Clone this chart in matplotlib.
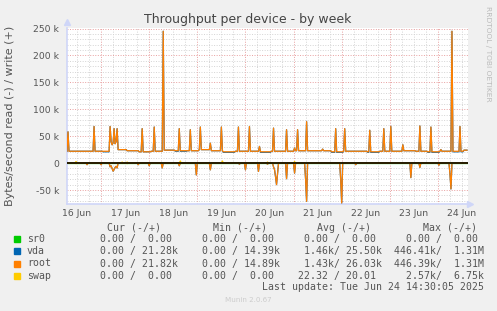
import numpy as np
import matplotlib.pyplot as plt

# samples every 30 min, x in days counted from 16 Jun 00:00
start = 14 / 48
step = 1 / 48
nsamp = 400

day_labels = ['16 Jun', '17 Jun', '18 Jun', '19 Jun', '20 Jun',
              '21 Jun', '22 Jun', '23 Jun', '24 Jun']

# write baseline, one value per 6 h block (k bytes/s)
root_write_base = [22, 22, 22, 22, 25, 23, 21, 22, 24, 23, 23, 25, 23, 21, 22, 22, 21,
                   22, 22, 23, 23, 23, 21, 22, 22, 21, 22, 22, 23, 22, 21, 22, 22, 24]
vda_write_base = [22, 22, 22, 21, 25, 23, 21, 22, 24, 22, 23, 25, 23, 20, 22, 22, 20,
                  22, 22, 23, 23, 23, 20, 22, 22, 20, 22, 22, 23, 22, 20, 22, 21, 24]

# write peaks (days, k bytes/s)
write_t = [0.313, 0.854, 1.188, 1.208, 1.229, 1.250, 1.271, 1.292, 1.313, 1.333,
           1.854, 2.104, 2.292, 2.625, 2.854, 3.063, 3.271, 3.500, 3.854, 4.083,
           4.292, 4.583, 4.854, 5.021, 5.083, 5.271, 5.604, 5.875, 6.063, 6.583,
           6.875, 7.021, 7.271, 7.625, 7.854, 8.063, 8.292, 8.458]
write_v = [58, 68, 68, 40, 34, 38, 64, 36, 40, 64,
           64, 67, 245, 64, 62, 67, 37, 67, 67, 68,
           31, 65, 62, 28, 62, 77, 26, 64, 64, 61,
           64, 68, 34, 69, 67, 25, 245, 68]

# read peaks (days, k bytes/s, drawn negative)
read_t = [0.708, 1.000, 1.188, 1.208, 1.229, 1.250, 1.271, 1.292, 1.313, 1.333,
          1.771, 2.000, 2.271, 2.625, 2.979, 3.271, 3.875, 4.000, 4.271, 4.458,
          4.583, 4.604, 4.625, 4.646, 4.667, 4.854, 5.021, 5.250, 5.271, 5.979,
          6.000, 6.292, 7.438, 7.625, 8.021, 8.250, 8.271]
read_v = [3, 3, 7, 5, 10, 15, 12, 8, 6, 9,
          3, 5, 9, 5, 22, 12.5, 2, 12.5, 15.5, 2,
          7, 12, 25, 40, 20, 29, 18.6, 30, 71, 30,
          74, 3, 27, 8, 4, 20, 48]

swap_t = [0.479, 1.438, 1.542, 2.646, 3.521, 4.458, 5.021]
swap_write_v = [3, 2, 2, 4, 4, 2, 3]
swap_read_v = [1, 0, 1, 1, 0, 1, 1]

names = ['sr0', 'vda', 'root', 'swap']
colors = ['#00cc00', '#0066b3', '#ff8000', '#ffcc00']
cur_txt = ['  0.00 /  0.00 ', '  0.00 / 21.28k', '  0.00 / 21.82k', '  0.00 /  0.00 ']
min_txt = ['  0.00 /  0.00 ', '  0.00 / 14.39k', '  0.00 / 14.89k', '  0.00 /  0.00 ']
avg_txt = ['  0.00 /  0.00 ', '  1.46k/ 25.50k', '  1.43k/ 26.03k', ' 22.32 / 20.01 ']
max_txt = ['  0.00 /  0.00 ', '446.41k/  1.31M', '446.39k/  1.31M', '  2.57k/  6.75k']

ytick_vals = [-50000, 0, 50000, 100000, 150000, 200000, 250000]
ytick_labels = ['-50 k', '0', '50 k', '100 k', '150 k', '200 k', '250 k']


def build(base, pt, pv):
    s = np.repeat(np.asarray(base, dtype=float), 12)[:nsamp]
    for tt, vv in zip(pt, pv):
        s[int(round((tt - start) / step))] = vv
    return s * 1000


t = start + np.arange(nsamp) * step
zeros = np.zeros(nsamp)
vda_w = build(vda_write_base, write_t, write_v)
root_w = build(root_write_base, write_t, write_v)
vda_r = build(zeros[::12], read_t, read_v)
root_r = build(zeros[::12], read_t, read_v)
swap_w = build(zeros[::12], swap_t, swap_write_v)
swap_r = build(zeros[::12], swap_t, swap_read_v)

W, H = 497, 311
fig = plt.figure(figsize=(W / 100, H / 100), dpi=100)
fig.patch.set_facecolor('#f0f0f0')
ax = fig.add_axes([67 / W, 1 - 204 / H, 401 / W, 176 / H])
ax.set_facecolor('white')
ax.set_xlim(start, start + nsamp * step)
ax.set_ylim(-76000, 251000)

# grid like rrdtool: grey minor, red major, both dotted
for x in np.arange(0.25, 9, 0.25):
    major = abs(x - round(x)) < 1e-6
    ax.axvline(x, color='#e8a0a0' if major else '#d4d4d4', lw=0.7,
               ls=(0, (1, 1.6)), zorder=1)
for y in np.arange(-70000, 250001, 10000):
    major = y % 50000 == 0
    ax.axhline(y, color='#e8a0a0' if major else '#d4d4d4', lw=0.7,
               ls=(0, (1, 1.6)), zorder=1)

ax.plot(t, zeros, color=colors[0], lw=0.9, zorder=2)
ax.plot(t, -vda_r, color=colors[1], lw=0.9, zorder=3)
ax.plot(t, vda_w, color=colors[1], lw=0.9, zorder=3)
ax.plot(t, -root_r, color=colors[2], lw=0.9, zorder=4)
ax.plot(t, root_w, color=colors[2], lw=0.9, zorder=4)
ax.plot(t, -swap_r, color=colors[3], lw=0.9, zorder=5)
ax.plot(t, swap_w, color=colors[3], lw=0.9, zorder=5)
ax.axhline(0, color='black', lw=1.2, zorder=6)

for side in ['top', 'right']:
    ax.spines[side].set_visible(False)
for side in ['left', 'bottom']:
    ax.spines[side].set_color('#cfd6f8')
    ax.spines[side].set_linewidth(1.2)
ax.plot([0], [1.035], marker='^', ms=4.5, color='#cfd6f8', transform=ax.transAxes,
        clip_on=False)
ax.plot([1.006], [0], marker='>', ms=4.5, color='#cfd6f8', transform=ax.transAxes,
        clip_on=False)

ax.set_xticks(np.arange(len(day_labels)) + 0.5, day_labels)
ax.set_yticks(ytick_vals, ytick_labels)
ax.tick_params(axis='both', length=0, labelsize=6.7, labelcolor='#555555')
ax.tick_params(axis='y', pad=5.5)
ax.tick_params(axis='x', pad=3.5)

fig.text(248 / W, 1 - 19.5 / H, 'Throughput per device - by week', ha='center',
         va='center', fontsize=9, color='#444444')
fig.text(10.5 / W, 1 - 116 / H, 'Bytes/second read (-) / write (+)', rotation=90,
         ha='center', va='center', fontsize=8, color='#555555')
fig.text(488 / W, 1 - 53.5 / H, 'RRDTOOL / TOBI OETIKER', rotation=270, ha='center',
         va='center', fontsize=5.4, color='#bbbbbb')

mono = dict(family='DejaVu Sans Mono', fontsize=7.1, color='#555555', va='center')
for x, head in zip([107.3, 212.7, 317.3, 422.7], ['Cur', 'Min', 'Avg', 'Max']):
    fig.text(x / W, 1 - 227.7 / H, head + ' (-/+)', ha='left', **mono)
for i, name in enumerate(names):
    y = 239.3 + 12.1 * i
    fig.patches.append(plt.Rectangle((14 / W, 1 - (y + 3) / H), 6 / W, 6 / H,
                                     transform=fig.transFigure, color=colors[i]))
    fig.text(27 / W, 1 - y / H, name, ha='left', **mono)
    for x, col in zip([87.5, 189.9, 292.5, 394], [cur_txt, min_txt, avg_txt, max_txt]):
        fig.text(x / W, 1 - y / H, col[i], ha='left', **mono)
fig.text(261.7 / W, 1 - 287.3 / H, 'Last update: Tue Jun 24 14:30:05 2025', ha='left',
         **mono)
fig.text(248 / W, 1 - 300 / H, 'Munin 2.0.67', ha='center', va='center', fontsize=5.1,
         color='#cccccc')

fig.savefig('out.png', dpi=100, facecolor=fig.get_facecolor())
